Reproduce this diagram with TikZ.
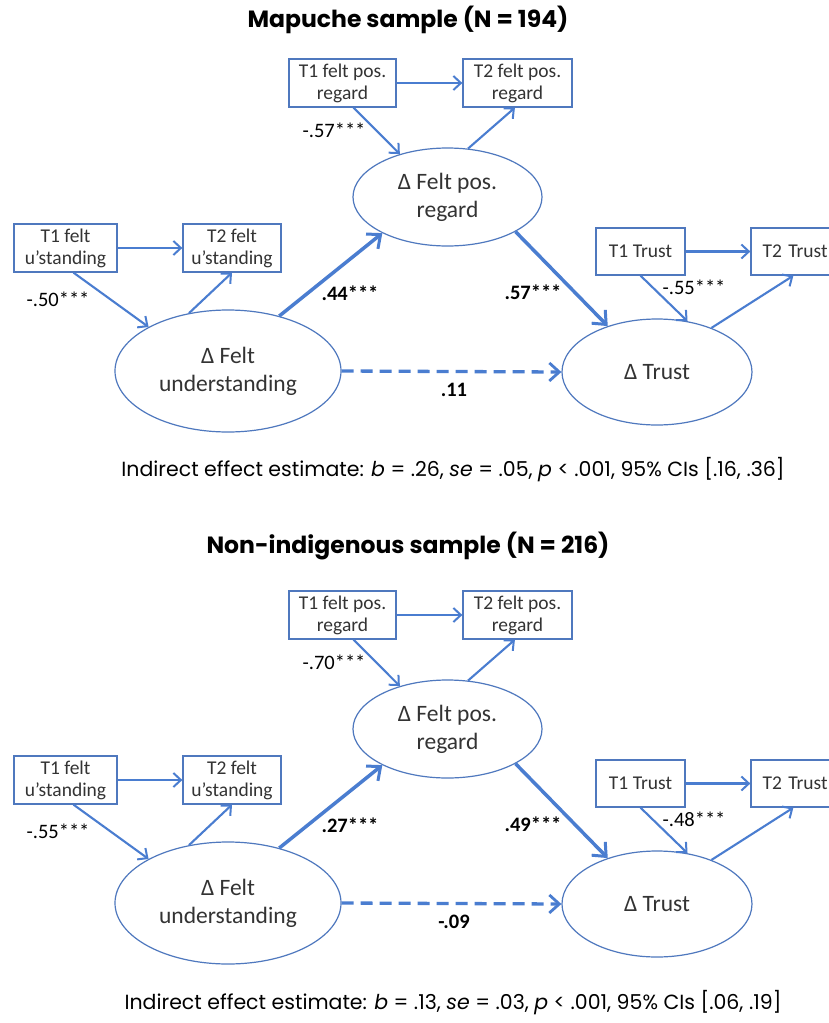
\documentclass[tikz,border=0pt]{standalone}
\usepackage{fontspec}
\setmainfont{Carlito}
\newfontfamily\gothic{Poppins}
\usetikzlibrary{shapes.geometric,arrows.meta}
\definecolor{lineblue}{HTML}{4A7DD0}
\definecolor{edgeblue}{HTML}{4F78BE}
\definecolor{txtgray}{HTML}{333333}
\tikzset{
  obsbox/.style={draw=edgeblue,line width=1.3pt,rectangle,inner sep=0pt,align=center,
    text=txtgray,font=\fontsize{19.5}{22}\selectfont},
  latent/.style={draw=edgeblue,line width=1.2pt,ellipse,inner sep=0pt,align=center,
    text=txtgray,font=\fontsize{23.5}{28}\selectfont},
  thinarr/.style={draw=lineblue,line width=2.1pt,-{Straight Barb[length=7.5pt,width=14pt,line width=2pt]}},
  thickarr/.style={draw=lineblue,line width=3.5pt,-{Straight Barb[length=11pt,width=19pt,line width=3pt]}},
  dasharr/.style={draw=lineblue,line width=3.3pt,dash pattern=on 12pt off 7pt,-{Straight Barb[length=10pt,width=18pt,line width=2.8pt]}},
  coef/.style={font=\fontsize{20.5}{22}\selectfont,text=black,inner sep=0pt},
  coefb/.style={font=\fontsize{20.5}{22}\selectfont\bfseries,text=black,inner sep=0pt},
  ttl/.style={font=\gothic\fontsize{23.5}{26}\selectfont\bfseries,text=black,inner sep=0pt},
  note/.style={font=\gothic\fontsize{20.5}{24}\selectfont,text=black,inner sep=0pt}
}
\newcommand{\drawpanel}[9]{%
  \begin{scope}[shift={(0,#1)}]
    \node[obsbox,minimum width=107pt,minimum height=48pt] (#2tpr1) at (342.5,83) {T1 felt pos.\\regard};
    \node[obsbox,minimum width=109pt,minimum height=48pt] (#2tpr2) at (517.5,83) {T2 felt pos.\\regard};
    \node[latent,minimum width=189pt,minimum height=98pt] (#2dpr) at (447.5,197) {Δ Felt pos.\\regard};
    \node[obsbox,minimum width=103pt,minimum height=48pt] (#2tfu1) at (65.5,248) {T1 felt\\u’standing};
    \node[obsbox,minimum width=98pt,minimum height=48pt] (#2tfu2) at (232,248) {T2 felt\\u’standing};
    \node[latent,minimum width=226pt,minimum height=122pt] (#2dfu) at (228,371) {Δ Felt\\understanding};
    \node[obsbox,minimum width=89pt,minimum height=47pt] (#2tt1) at (640.5,251.5) {T1 Trust};
    \node[obsbox,minimum width=89pt,minimum height=47pt,text width=80pt,align=left] (#2tt2) at (795.5,251.5) {\hspace*{7pt}T2 Trust};
    \node[latent,minimum width=190pt,minimum height=106pt] (#2dtr) at (657,372) {Δ Trust};
    \draw[thinarr] (#2tpr1.east) -- (#2tpr2.west);
    \draw[thinarr] (#2tpr1.-66) -- (#2dpr.138);
    \draw[thinarr] (#2dpr.67) -- (#2tpr2.-96);
    \draw[thinarr] (#2tfu1.east) -- (#2tfu2.west);
    \draw[thinarr] (#2tfu1.-72) -- (#2dfu.151);
    \draw[thinarr] (#2dfu.124) -- (#2tfu2.south);
    \draw[thinarr] (#2tt1.east) -- (#2tt2.west);
    \draw[thinarr] (#2tt1.-90) -- (#2dtr.59);
    \draw[thinarr] (#2dtr.39) -- (#2tt2.-95);
    \draw[thickarr] (#2dfu.47) -- (#2dpr.209);
    \draw[thickarr] (#2dpr.-27) -- (#2dtr.137);
    \draw[dasharr] (#2dfu.east) -- (#2dtr.west);
    \node[coef] (#2c1) at (334,130) {#3};
    \node[coef] (#2c2) at (58,299) {#4};
    \node[coefb] (#2c3) at (350,293) {#5};
    \node[coefb] (#2c4) at (533,292) {#6};
    \node[coef] (#2c5) at (694,287) {#7};
    \node[coefb] (#2c6) at (454,390) {#8};
  \end{scope}%
}
\begin{document}
\begin{tikzpicture}[x=1pt,y=-1pt]
  \useasboundingbox (0,0) rectangle (829,1023);
  \clip (0,0) rectangle (829,1023);
  \fill[white] (0,0) rectangle (829,1023);
  \node[ttl] (title1) at (408,20) {Mapuche sample (N = 194)};
  \drawpanel{0}{a}{-.57***}{-.50***}{.44***}{.57***}{-.55***}{.11}{}
  \node[note] (ind1) at (453,470) {Indirect effect estimate: \textit{b} = .26, \textit{se} = .05, \textit{p} < .001, 95\% CIs [.16, .36]};
  \node[ttl] (title2) at (408,546) {Non-indigenous sample (N = 216)};
  \drawpanel{532}{b}{-.70***}{-.55***}{.27***}{.49***}{-.48***}{-.09}{}
  \node[note] (ind2) at (453,1003) {Indirect effect estimate: \textit{b} = .13, \textit{se} = .03, \textit{p} < .001, 95\% CIs [.06, .19]};
\end{tikzpicture}
\end{document}
